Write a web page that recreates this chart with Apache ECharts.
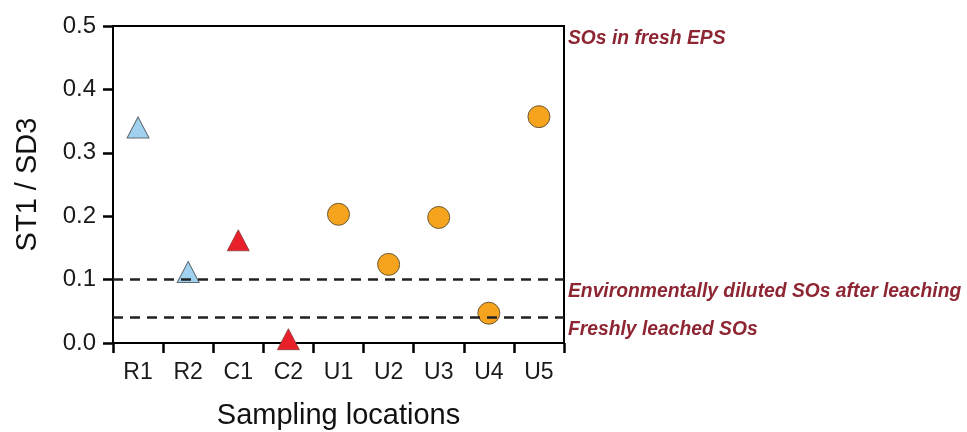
<!DOCTYPE html>
<html>
<head>
<meta charset="utf-8">
<style>
  html, body { margin: 0; padding: 0; background: #fff; }
  #chart { width: 967px; height: 432px; }
</style>
<script src="https://cdn.jsdelivr.net/npm/echarts@6/dist/echarts.min.js"></script>
</head>
<body>
<div id="chart"></div>
<script>
// Sampling locations and the ST1/SD3 ratio measured at each
const locations = ['R1', 'R2', 'C1', 'C2', 'U1', 'U2', 'U3', 'U4', 'U5'];
const ratio = [0.34, 0.112, 0.162, 0.006, 0.203, 0.124, 0.198, 0.047, 0.357];

// Site groups: reference (R), control (C), urban (U)
const groupR = ['R1', 'R2'];
const groupC = ['C1', 'C2'];
const groupU = ['U1', 'U2', 'U3', 'U4', 'U5'];

// Y-axis ticks
const yTicks = [0, 0.1, 0.2, 0.3, 0.4, 0.5];

// Reference levels and their descriptions
const thresholdValues = [0.5, 0.1, 0.04];
const thresholdLabels = ['SOs in fresh EPS', 'Environmentally diluted SOs after leaching', 'Freshly leached SOs'];
const dashedLevels = [0.1, 0.04];

const FONT = 'Arial, "Liberation Sans", sans-serif';

function pointsFor(group) {
  return group.map(name => [name, ratio[locations.indexOf(name)]]);
}

const chart = echarts.init(document.getElementById('chart'), null, { renderer: 'canvas' });

const option = {
  animation: false,
  backgroundColor: '#ffffff',
  grid: {
    left: 113, right: 403, top: 26, bottom: 89,
    outerBoundsMode: 'none',
    containLabel: false,
    show: true, borderColor: '#000', borderWidth: 2, backgroundColor: 'transparent'
  },
  xAxis: {
    type: 'category',
    data: locations,
    boundaryGap: true,
    name: 'Sampling locations',
    nameLocation: 'middle',
    nameGap: 58,
    nameTextStyle: { fontFamily: FONT, fontSize: 29, color: '#111' },
    axisLine: { show: true, lineStyle: { color: '#000', width: 2 } },
    axisTick: { show: true, inside: false, length: 10, alignWithLabel: false, lineStyle: { color: '#000', width: 2.5 } },
    axisLabel: { fontFamily: FONT, fontSize: 23, color: '#1a1a1a', margin: 18 },
    splitLine: { show: false }
  },
  yAxis: {
    type: 'value',
    min: yTicks[0],
    max: yTicks[yTicks.length - 1],
    interval: 0.1,
    name: 'ST1 / SD3',
    nameLocation: 'middle',
    nameGap: 71,
    nameTextStyle: { fontFamily: FONT, fontSize: 29, color: '#111' },
    axisLine: { show: true, lineStyle: { color: '#000', width: 2 } },
    axisTick: { show: true, inside: false, length: 10, lineStyle: { color: '#000', width: 2.5 } },
    axisLabel: { fontFamily: FONT, fontSize: 24, color: '#1a1a1a', margin: 17, formatter: v => v.toFixed(1) },
    splitLine: { show: false }
  },
  series: [
    {
      name: 'R', type: 'scatter', symbol: 'triangle', symbolSize: [22, 21],
      itemStyle: { color: '#a0d2f0', borderColor: '#5f6a72', borderWidth: 1, opacity: 1 },
      data: pointsFor(groupR), z: 3
    },
    {
      name: 'C', type: 'scatter', symbol: 'triangle', symbolSize: [22, 21],
      itemStyle: { color: '#e8202a', borderColor: '#8a3a3a', borderWidth: 0.8, opacity: 1 },
      data: pointsFor(groupC), z: 3
    },
    {
      name: 'U', type: 'scatter', symbol: 'circle', symbolSize: 22,
      itemStyle: { color: '#f6a31e', borderColor: '#6b5a3a', borderWidth: 1, opacity: 1 },
      data: pointsFor(groupU), z: 3
    },
    {
      // dashed reference levels, drawn above the markers
      name: 'levels', type: 'scatter', data: [], z: 6,
      markLine: {
        silent: true, symbol: 'none', label: { show: false },
        lineStyle: { type: [10, 7], color: '#222', width: 2.5 },
        data: dashedLevels.map(v => ({ yAxis: v }))
      }
    }
  ]
};

chart.setOption(option);

// Descriptions to the right of the plot, just below each reference level
const gridRight = 967 - option.grid.right;
chart.setOption({
  graphic: thresholdValues.map((v, i) => ({
    type: 'text',
    left: gridRight + 4,
    top: chart.convertToPixel({ yAxisIndex: 0 }, v) + 3,
    style: {
      text: thresholdLabels[i],
      fill: '#8e2532',
      font: 'italic bold 19.3px ' + FONT
    }
  }))
});
</script>
</body>
</html>
